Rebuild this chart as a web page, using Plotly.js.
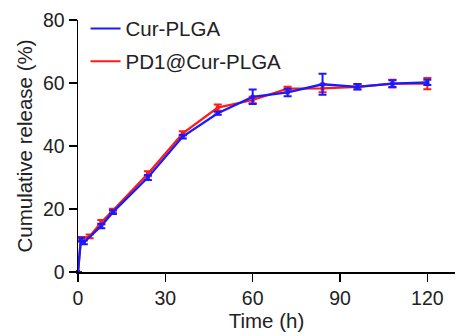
<!DOCTYPE html>
<html><head><meta charset="utf-8">
<script src="https://cdn.plot.ly/plotly-3.0.1.min.js"></script>
<style>html,body{margin:0;padding:0;background:#fff}#c{width:456px;height:336px}</style>
</head><body><div id="c"></div>
<script>
const seriesNames = ["Cur-PLGA", "PD1@Cur-PLGA"];
const timeBlue = [0, 1, 2, 8, 12, 24, 36, 48, 60, 72, 84, 96, 108, 120];
const releaseBlue = [0, 10.3, 9.4, 14.6, 19.0, 30.0, 43.0, 50.4, 55.6, 57.0, 59.6, 58.8, 59.8, 60.2];
const errBlue = [0, 0.6, 0.6, 0.7, 0.6, 0.8, 0.6, 0.5, 2.3, 1.2, 3.3, 0.9, 1.1, 0.8];
const timeRed = [0, 1, 4, 8, 12, 24, 36, 48, 60, 72, 84, 96, 108, 120];
const releaseRed = [0, 10.6, 11.3, 15.8, 19.5, 31.2, 44.0, 52.2, 54.6, 58.2, 58.3, 58.8, 59.8, 59.8];
const errRed = [0, 0.5, 0.6, 0.7, 0.6, 0.8, 0.7, 1.0, 1.0, 0.6, 1.2, 0.8, 1.2, 1.8];
const xTicks = [0, 30, 60, 90, 120];
const yTicks = [0, 20, 40, 60, 80];

const fam = "Liberation Sans, Arial, sans-serif";
const tickFont = {family: fam, size: 19.5, color: "#222"};
const titleFont = {family: fam, size: 20.5, color: "#222"};
const blue = "#1a1aff", red = "#ff1a1a";
const traces = [
  {x: timeRed, y: releaseRed, name: seriesNames[1], type: "scatter", mode: "lines+markers",
   line: {color: red, width: 2.3}, marker: {symbol: "square", size: 4, color: red},
   error_y: {type: "data", array: errRed, visible: true, color: red, thickness: 2, width: 4},
   cliponaxis: false, showlegend: false},
  {x: timeBlue, y: releaseBlue, name: seriesNames[0], type: "scatter", mode: "lines+markers",
   line: {color: blue, width: 2.3}, marker: {symbol: "square", size: 4, color: blue},
   error_y: {type: "data", array: errBlue, visible: true, color: blue, thickness: 2, width: 4},
   cliponaxis: false, showlegend: false},
  {x: [null], y: [null], name: seriesNames[0], type: "scatter", mode: "lines",
   line: {color: blue, width: 2}, legendrank: 1, legendgroup: "a"},
  {x: [null], y: [null], name: seriesNames[1], type: "scatter", mode: "lines",
   line: {color: red, width: 2}, legendrank: 2, legendgroup: "b"}
];
const layout = {
  width: 456, height: 336,
  margin: {l: 78, r: 1, t: 20, b: 64},
  paper_bgcolor: "#fff", plot_bgcolor: "#fff",
  font: tickFont,
  showlegend: true,
  legend: {x: 0.02, y: 1.045, xanchor: "left", yanchor: "top", bgcolor: "rgba(0,0,0,0)",
           font: titleFont, itemwidth: 30, traceorder: "grouped", tracegroupgap: 3},
  xaxis: {range: [0, 129.5], tickvals: xTicks, ticks: "outside", ticklen: 8, tickwidth: 1.5,
          tickcolor: "#000", showline: true, linecolor: "#000", linewidth: 1.5,
          showgrid: false, zeroline: false, tickfont: tickFont,
          title: {text: "Time (h)", font: titleFont, standoff: 4}},
  yaxis: {range: [0, 80], tickvals: yTicks, ticks: "outside", ticklen: 8, tickwidth: 1.5,
          tickcolor: "#000", showline: true, linecolor: "#000", linewidth: 1.5,
          showgrid: false, zeroline: false, tickfont: tickFont,
          title: {text: "Cumulative release (%)", font: titleFont, standoff: 4}}
};
Plotly.newPlot("c", traces, layout, {displayModeBar: false, staticPlot: true});
</script></body></html>
